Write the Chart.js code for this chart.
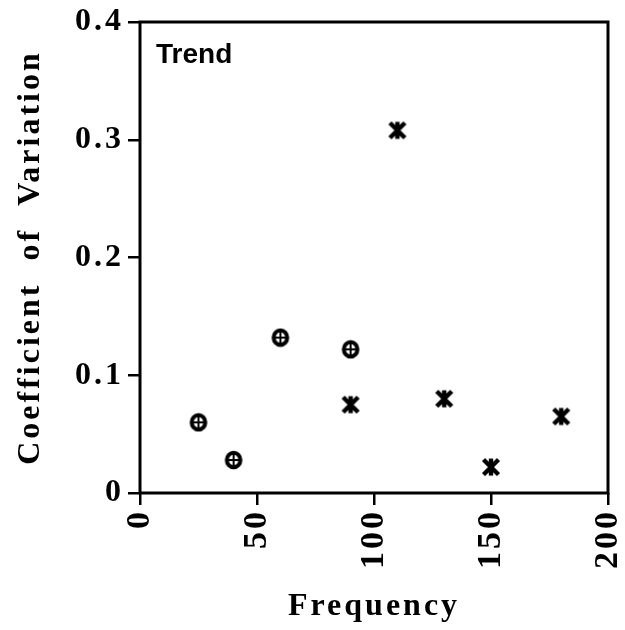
<!DOCTYPE html>
<html lang="en">
<head>
  <meta charset="UTF-8" />
  <title>Coefficient of Variation vs Frequency</title>
  <script src="https://cdn.jsdelivr.net/npm/chart.js"></script>
  <style>
    html, body { margin: 0; padding: 0; background: #fff; }
    #wrap { width: 625px; height: 630px; }
  </style>
</head>
<body>
  <div id="wrap"><canvas id="cvChart"></canvas></div>

  <script>
    // open circle-with-plus series
    const circleFreq = [25, 40, 60, 90];
    const circleCV = [0.06, 0.028, 0.132, 0.122];
    // asterisk series
    const starFreq = [90, 110, 130, 150, 180];
    const starCV = [0.075, 0.308, 0.08, 0.022, 0.065];

    const xTicks = [0, 50, 100, 150, 200];
    const yTicks = [0, 0.1, 0.2, 0.3, 0.4];
    const panelLabel = 'Trend';

    const serif = '"Liberation Serif", "Times New Roman", serif';

    // circle with a plus inside, drawn once as an image
    function circlePlus() {
      const c = document.createElement('canvas');
      c.width = 20; c.height = 20;
      const g = c.getContext('2d');
      g.strokeStyle = '#000';
      g.lineWidth = 4;
      g.beginPath();
      g.ellipse(10, 10, 6.8, 7.2, 0, 0, Math.PI * 2);
      g.stroke();
      g.lineWidth = 2;
      g.beginPath();
      g.moveTo(3.5, 10); g.lineTo(16.5, 10);
      g.moveTo(10, 3); g.lineTo(10, 17);
      g.stroke();
      return c;
    }

    // heavy asterisk: an X plus a vertical bar
    function asterisk() {
      const c = document.createElement('canvas');
      c.width = 20; c.height = 20;
      const g = c.getContext('2d');
      g.strokeStyle = '#000';
      g.lineWidth = 4.4;
      g.beginPath();
      g.moveTo(2.5, 2.5); g.lineTo(17.5, 17.5);
      g.moveTo(17.5, 2.5); g.lineTo(2.5, 17.5);
      g.moveTo(10, 1.5); g.lineTo(10, 18.5);
      g.stroke();
      return c;
    }

    const spacing = {
      id: 'spacing',
      beforeLayout(chart) { chart.ctx.letterSpacing = '3px'; },
      beforeDraw(chart) { chart.ctx.letterSpacing = '3px'; }
    };

    const frame = {
      id: 'frame',
      beforeDatasetsDraw(chart) {
        const { ctx, chartArea: a } = chart;
        ctx.save();
        ctx.strokeStyle = '#000';
        ctx.lineWidth = 3;
        ctx.strokeRect(a.left, a.top, a.right - a.left, a.bottom - a.top);
        ctx.letterSpacing = '0px';
        ctx.fillStyle = '#000';
        ctx.font = 'bold 28px "Liberation Sans", Arial, sans-serif';
        ctx.textBaseline = 'alphabetic';
        ctx.fillText(panelLabel, a.left + 16, a.top + 41);
        ctx.restore();
      }
    };

    new Chart(document.getElementById('cvChart'), {
      type: 'scatter',
      data: {
        datasets: [
          {
            label: 'circles',
            data: circleFreq.map((x, i) => ({ x, y: circleCV[i] })),
            pointStyle: circlePlus(),
            pointRadius: 10
          },
          {
            label: 'stars',
            data: starFreq.map((x, i) => ({ x, y: starCV[i] })),
            pointStyle: asterisk(),
            pointRadius: 10
          }
        ]
      },
      options: {
        responsive: true,
        maintainAspectRatio: false,
        animation: false,
        layout: { padding: { left: 0, right: 17, top: 22, bottom: 0 } },
        plugins: { legend: { display: false }, tooltip: { enabled: false } },
        scales: {
          x: {
            type: 'linear',
            min: 0, max: 200,
            afterBuildTicks: s => { s.ticks = xTicks.map(v => ({ value: v })); },
            afterFit: s => { s.height = 137; s.paddingLeft = 0; s.paddingRight = 0; },
            border: { display: false },
            grid: { drawOnChartArea: false, drawTicks: true, tickLength: 12, color: '#000', lineWidth: 2.5 },
            ticks: {
              color: '#000',
              font: { family: serif, size: 34, weight: 'bold' },
              maxRotation: 90, minRotation: 90,
              padding: 4
            },
            title: {
              display: true,
              text: 'Frequency',
              color: '#000',
              font: { family: serif, size: 32, weight: 'bold' },
              padding: { top: 0, bottom: 4 }
            }
          },
          y: {
            type: 'linear',
            min: 0, max: 0.4,
            afterBuildTicks: s => { s.ticks = yTicks.map(v => ({ value: v })); },
            afterFit: s => { s.width = 140; s.paddingTop = 0; s.paddingBottom = 0; },
            border: { display: false },
            grid: { drawOnChartArea: false, drawTicks: true, tickLength: 12, color: '#000', lineWidth: 2.5 },
            ticks: {
              color: '#000',
              font: { family: serif, size: 32, weight: 'bold' },
              padding: 4,
              callback: v => v === 0 ? '0' : v.toFixed(1)
            },
            title: {
              display: true,
              text: 'Coefficient  of  Variation',
              color: '#000',
              font: { family: serif, size: 32, weight: 'bold' },
              padding: { top: 12, bottom: 0 }
            }
          }
        }
      },
      plugins: [spacing, frame]
    });
  </script>
</body>
</html>
